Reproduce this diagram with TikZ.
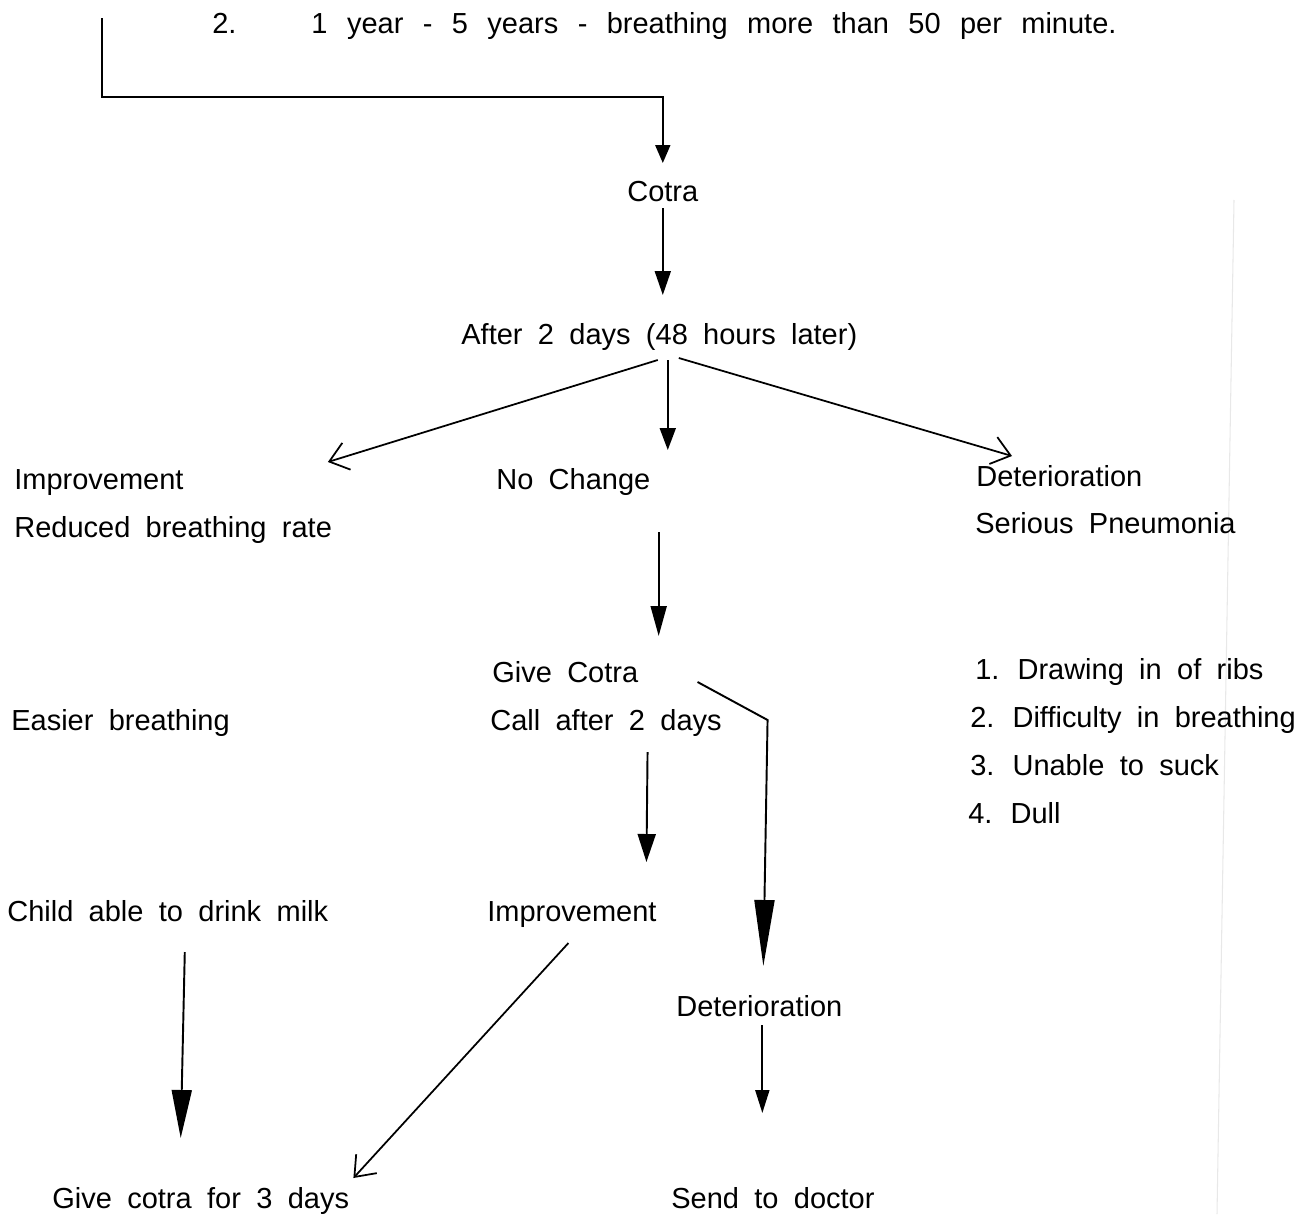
\documentclass[tikz,border=0pt]{standalone}
\usepackage{fontspec}
\setmainfont{Liberation Sans}
\usetikzlibrary{arrows.meta,calc}

\tikzset{
  lbl/.style={inner sep=0pt,anchor=base west,
    font={\fontsize{16.5}{20}\selectfont\spaceskip=.53em\relax}},
  widelbl/.style={lbl,font={\fontsize{16.5}{20}\selectfont\spaceskip=.67em\relax}},
  arrowfill/.style 2 args={line width=1.1pt,-{Triangle[length=#1,width=#2]}},
  arrowopen/.style={line width=1pt,-{Straight Barb[length=0.36cm,width=0.56cm,line width=1pt]}}
}

\begin{document}
\begin{tikzpicture}[x=0.02cm,y=-0.02cm]
\useasboundingbox (0,0) rectangle (1308,1214);
% scan edge
\draw[gray!18,line width=0.6pt] (1234,200) -- (1217,1214);

\node[widelbl] (age) at (212,33) {2.\hspace{1.5cm}1 year - 5 years - breathing more than 50 per minute.};
\coordinate (topleft) at (102,18);

\node[lbl] (cotra) at (627,201) {Cotra};
\node[lbl] (after) at (461,344) {After 2 days (48 hours later)};

\node[lbl] (impL) at (14,489) {Improvement};
\node[lbl] (rate) at (14,537) {Reduced breathing rate};
\node[lbl] (nochg) at (496,489) {No Change};
\node[lbl] (detR) at (976,486) {Deterioration};
\node[lbl] (pneu) at (975,533) {Serious Pneumonia};

\node[lbl] (givec) at (492,682) {Give Cotra};
\node[lbl] (call) at (490,730) {Call after 2 days};
\node[lbl] (easier) at (11,730) {Easier breathing};

\node[lbl] (sign1) at (975,679) {1. Drawing in of ribs};
\node[lbl] (sign2) at (970,727) {2. Difficulty in breathing};
\node[lbl] (sign3) at (970,775) {3. Unable to suck};
\node[lbl] (sign4) at (968,823) {4. Dull};

\node[lbl] (child) at (7,921) {Child able to drink milk};
\node[lbl] (impM) at (487,921) {Improvement};
\node[lbl] (detM) at (676,1016) {Deterioration};

\node[lbl] (give3) at (52,1208) {Give cotra for 3 days};
\node[lbl] (send) at (671,1208) {Send to doctor};

% connectors
\draw[arrowfill={0.36cm}{0.3cm}] (topleft) |- ($(cotra.base)+(0,-104)$) -- ($(cotra.base)+(0,-38)$);
\draw[arrowfill={0.48cm}{0.32cm}] ($(cotra.base)+(0,7)$) -- ($(cotra.base |- after.base)+(0,-49)$);

\draw[arrowopen] ($(after.base)+(-1.5,16)$) -- ($(impL.base east)+(144,-27)$);
\draw[arrowfill={0.44cm}{0.32cm}] ($(after.base)+(8.5,16)$) -- ($(after.base |- nochg.base)+(8.5,-39)$);
\draw[arrowopen] ($(after.base)+(19.5,14)$) -- ($(detR.base west)+(36,-30)$);

\draw[arrowfill={0.6cm}{0.32cm}] ($(nochg.base east)+(8,43)$) -- ($(nochg.base east |- givec.base)+(8,-46)$);
\draw[arrowfill={1.32cm}{0.4cm}] ($(givec.base east)+(59,0)$) -- ++(70,38) -- ($(detM.base)+(4,-50)$);
\draw[arrowfill={0.56cm}{0.36cm}] ($(call.base)+(41.5,22)$) -- ($(impM.base)+(74.5,-59)$);

\draw[arrowfill={0.96cm}{0.4cm}] ($(child.base)+(17,31)$) -- ($(give3.base)+(-20,-70)$);
\draw[arrowopen] ($(impM.base)+(-3.5,22)$) -- ($(give3.base east)+(4,-30)$);
\draw[arrowfill={0.46cm}{0.28cm}] ($(detM.base)+(3,9)$) -- ($(detM.base |- send.base)+(3,-95)$);
\end{tikzpicture}
\end{document}
